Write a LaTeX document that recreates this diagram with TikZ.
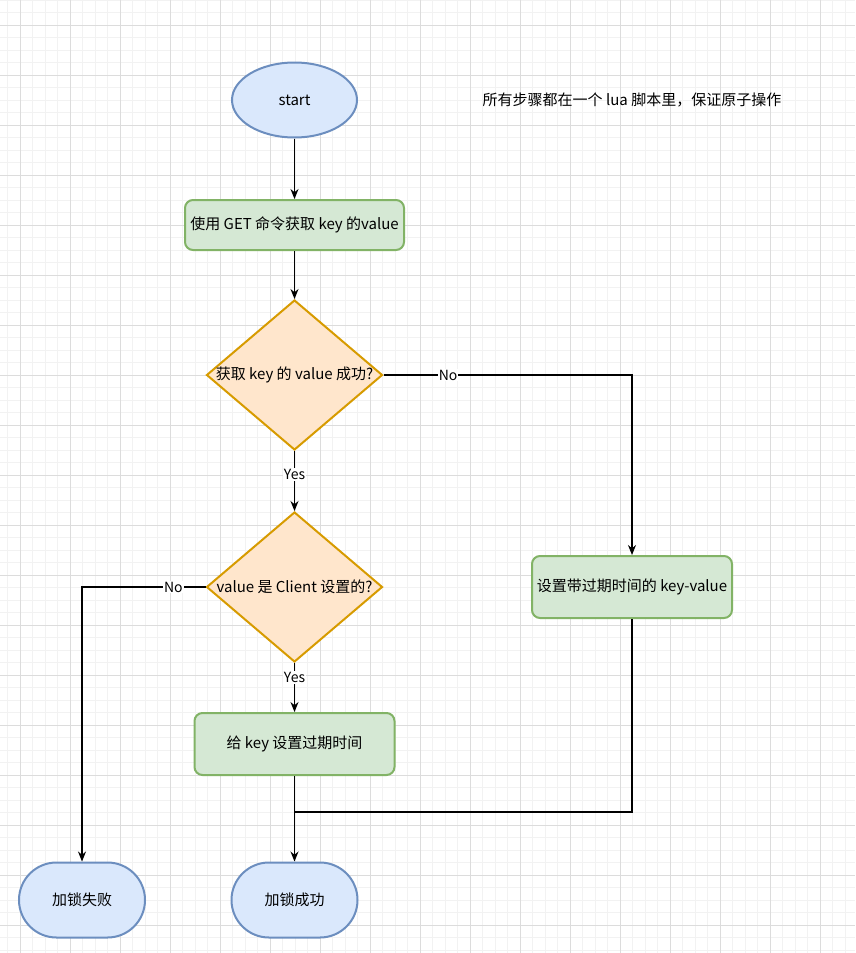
\documentclass[tikz,border=0pt]{standalone}
\usepackage{fontspec}
\setmainfont{Noto Sans CJK SC}
\usetikzlibrary{shapes.geometric,arrows.meta}

\definecolor{bluefill}{HTML}{DAE8FC}
\definecolor{blueline}{HTML}{6C8EBF}
\definecolor{greenfill}{HTML}{D5E8D4}
\definecolor{greenline}{HTML}{82B366}
\definecolor{orangefill}{HTML}{FFE6CC}
\definecolor{orangeline}{HTML}{D79B00}
\definecolor{gridminor}{HTML}{F2F2F2}
\definecolor{gridmajor}{HTML}{DCDCDC}

\begin{document}
\begin{tikzpicture}[x=1pt,y=-1pt,
    font=\fontsize{15}{17}\selectfont,
    terminal/.style={draw=blueline,fill=bluefill,line width=2pt,minimum width=126pt,minimum height=75pt,rounded corners=37.5pt},
    startnode/.style={ellipse,draw=blueline,fill=bluefill,line width=2pt,minimum width=125pt,minimum height=75pt},
    process/.style={draw=greenline,fill=greenfill,line width=2pt,rounded corners=8pt,minimum height=50pt},
    decision/.style={diamond,draw=orangeline,fill=orangefill,line width=2pt,minimum width=176pt,minimum height=150pt,inner sep=0pt},
    flow/.style={line width=1.2pt,-{Stealth[length=10pt,width=8pt]}},
    edgelabel/.style={fill=white,inner sep=1pt,font=\fontsize{14}{16}\selectfont}]
  \useasboundingbox (0,0) rectangle (855,953);
  % background grid
  \fill[white] (0,0) rectangle (855,953);
  \foreach \x in {7.5,20,...,855} \draw[gridminor,line width=0.8pt] (\x,0) -- (\x,953);
  \foreach \y in {0,12.5,...,953} \draw[gridminor,line width=0.8pt] (0,\y) -- (855,\y);
  \foreach \x in {20,70,...,855} \draw[gridmajor,line width=0.8pt] (\x,0) -- (\x,953);
  \foreach \y in {25,75,...,953} \draw[gridmajor,line width=0.8pt] (0,\y) -- (855,\y);

  % nodes
  \node[startnode] (start) at (294.5,100) {start};
  \node[process,minimum width=219pt] (getkey) at (294.5,225) {使用 GET 命令获取 key 的value};
  \node[decision,label=center:{获取 key 的 value 成功?}] (gotvalue) at (294.5,375) {};
  \node[decision,label=center:{value 是 Client 设置的?}] (isclient) at (294.5,587) {};
  \node[process,minimum width=200pt,minimum height=62pt] (setexpire) at (294.5,744) {给 key 设置过期时间};
  \node[process,minimum width=200pt,minimum height=62pt] (setkv) at (632,587) {设置带过期时间的 key-value};
  \node[terminal] (fail) at (82,900) {加锁失败};
  \node[terminal] (success) at (294.5,900) {加锁成功};
  \node (note) at (632,100) {所有步骤都在一个 lua 脚本里，保证原子操作};
  \coordinate (merge) at (294.5,812);

  % connectors
  \draw[flow] (start) -- (getkey);
  \draw[flow] (getkey) -- (gotvalue);
  \draw[flow] (gotvalue) -- node[edgelabel,pos=0.39] {Yes} (isclient);
  \draw[flow] (isclient) -- node[edgelabel,pos=0.3] {Yes} (setexpire);
  \draw[flow] (gotvalue.east) -| node[edgelabel,pos=0.13] {No} (setkv.north);
  \draw[flow] (isclient.west) -| node[edgelabel,pos=0.13] {No} (fail.north);
  \draw[flow] (setexpire) -- (success);
  \draw[line width=1.2pt] (setkv.south) |- (merge);
\end{tikzpicture}
\end{document}
